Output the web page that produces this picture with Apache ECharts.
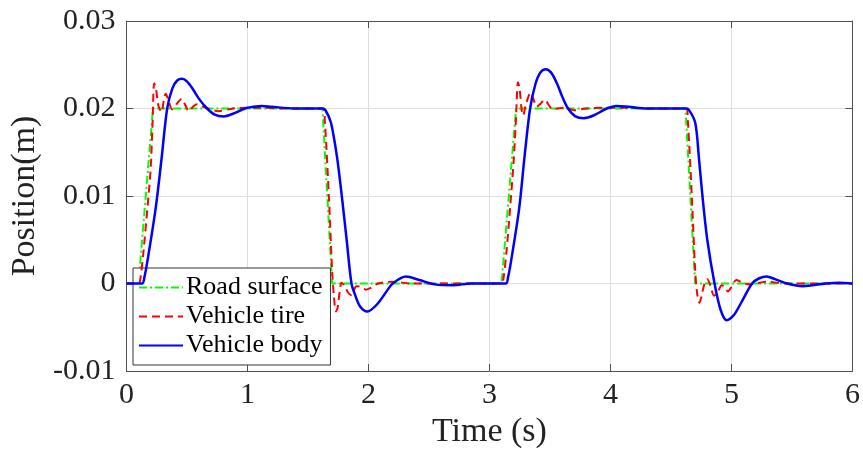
<!DOCTYPE html>
<html>
<head>
<meta charset="utf-8">
<title>Position response</title>
<script src="https://cdn.jsdelivr.net/npm/echarts@6/dist/echarts.min.js"></script>
<style>
  html, body { margin: 0; padding: 0; background: #fff; }
  #chart { width: 863px; height: 459px; }
</style>
</head>
<body>
<div id="chart"></div>
<script>
// 路面输入 [t, 位移]
var roadSurface = [
  [0, 0], [0.10, 0], [0.22, 0.02], [1.62, 0.02], [1.70, 0],
  [3.10, 0], [3.22, 0.02], [4.62, 0.02], [4.70, 0], [6, 0]
];

// 轮胎位移
var vehicleTire = [
  [0, 0], [0.10, 0], [0.115, 0.0005], [0.14, 0.0035], [0.173, 0.0085], [0.20, 0.0130],
  [0.215, 0.0178], [0.23, 0.0229], [0.245, 0.0222], [0.265, 0.0203], [0.29, 0.0196],
  [0.31, 0.0210], [0.325, 0.0217], [0.35, 0.0208], [0.378, 0.0199], [0.42, 0.0206],
  [0.455, 0.0211], [0.49, 0.0203], [0.516, 0.0197], [0.55, 0.0202], [0.584, 0.0205],
  [0.65, 0.0201], [0.76, 0.0197], [0.88, 0.0200], [1.0, 0.0201], [1.1, 0.0201],
  [1.3, 0.0200], [1.625, 0.0200], [1.64, 0.0185], [1.673, 0.0100], [1.70, 0.0015],
  [1.715, -0.0015], [1.732, -0.0032], [1.745, -0.0028], [1.762, -0.0010], [1.778, 0.0001],
  [1.80, -0.0002], [1.83, -0.0010], [1.855, -0.0013], [1.88, -0.0008], [1.90, -0.0003],
  [1.94, -0.0004], [1.98, -0.0007], [2.02, -0.0005], [2.08, 0.0], [2.2, 0.0002],
  [2.35, 0.0], [3.10, 0], [3.115, 0.0005], [3.14, 0.0035], [3.17, 0.0085],
  [3.20, 0.0140], [3.22, 0.0190], [3.236, 0.0230], [3.25, 0.0222], [3.265, 0.0200],
  [3.278, 0.0192], [3.30, 0.0204], [3.34, 0.0218], [3.365, 0.0210], [3.39, 0.0202],
  [3.42, 0.0205], [3.457, 0.0210], [3.49, 0.0204], [3.52, 0.0199], [3.56, 0.0200],
  [3.62, 0.0201], [3.70, 0.0198], [3.80, 0.0200], [3.95, 0.0201], [4.1, 0.0201],
  [4.3, 0.0200], [4.625, 0.0200], [4.64, 0.0185], [4.672, 0.0100], [4.70, 0.0015],
  [4.717, -0.0012], [4.735, -0.0022], [4.75, -0.0016], [4.775, -0.0001], [4.80, 0.0005],
  [4.825, -0.0002], [4.856, -0.0014], [4.885, -0.0010], [4.92, -0.0002], [4.945, -0.0004],
  [4.97, -0.0009], [5.00, -0.0004], [5.04, 0.0004], [5.09, 0.0001], [5.15, -0.0001],
  [5.29, 0.0002], [5.45, 0.0], [6, 0]
];

// 车身位移
var vehicleBody = [
  [0, 0], [0.13, 0], [0.15, 0.0008], [0.173, 0.0025], [0.241, 0.0085], [0.29, 0.0142],
  [0.337, 0.0200], [0.38, 0.0223], [0.42, 0.0232], [0.461, 0.0234], [0.50, 0.0231],
  [0.55, 0.0222], [0.60, 0.0211], [0.667, 0.0200], [0.73, 0.0193], [0.804, 0.0191],
  [0.88, 0.0194], [0.98, 0.0200], [1.05, 0.0202], [1.12, 0.0203], [1.2, 0.0202],
  [1.39, 0.0200], [1.62, 0.0200], [1.645, 0.0198], [1.69, 0.0184], [1.74, 0.0145],
  [1.78, 0.0100], [1.82, 0.0050], [1.86, 0.0], [1.89, -0.0013], [1.93, -0.0026],
  [1.99, -0.0032], [2.07, -0.0024], [2.16, -0.0007], [2.20, 0.0], [2.31, 0.0008],
  [2.42, 0.0004], [2.55, -0.0001], [2.7, -0.0002], [2.85, 0], [3.135, 0],
  [3.155, 0.0008], [3.178, 0.0025], [3.245, 0.0085], [3.29, 0.0145], [3.336, 0.0200],
  [3.38, 0.0228], [3.42, 0.0241], [3.465, 0.0245], [3.51, 0.0241], [3.56, 0.0228],
  [3.60, 0.0214], [3.649, 0.0200], [3.71, 0.0191], [3.78, 0.0189], [3.86, 0.0192],
  [3.97, 0.0200], [4.05, 0.0203], [4.15, 0.0202], [4.30, 0.0200], [4.62, 0.0200],
  [4.645, 0.0199], [4.70, 0.0184], [4.73, 0.0145], [4.76, 0.0100], [4.80, 0.0050],
  [4.86, 0.0], [4.91, -0.0030], [4.96, -0.0042], [5.02, -0.0036], [5.08, -0.0022],
  [5.17, 0.0], [5.23, 0.0006], [5.29, 0.0008], [5.36, 0.0005], [5.46, 0.0],
  [5.59, -0.0003], [5.78, 0.0], [5.89, 0.0001], [6, 0]
];

var seriesNames = ['Road surface', 'Vehicle tire', 'Vehicle body'];

var font = "'Liberation Serif', 'Times New Roman', serif";
var axisColor = '#505050';

function frameAxis(extra) {
  var base = {
    type: 'value',
    axisLine: { show: true, onZero: false, lineStyle: { color: axisColor, width: 1 } },
    axisTick: { show: true, inside: true, length: 7, lineStyle: { color: axisColor } },
    splitLine: { show: false },
    axisLabel: { show: false }
  };
  return Object.assign(base, extra);
}

var chart = echarts.init(document.getElementById('chart'));

chart.setOption({
  animation: false,
  backgroundColor: '#fff',
  grid: { left: 124, right: 10, top: 21, bottom: 88, containLabel: false },
  legend: {
    orient: 'vertical',
    left: 133,
    top: 268,
    data: seriesNames,
    itemWidth: 44,
    itemHeight: 14,
    itemGap: 0,
    padding: [5, 8, 5, 5],
    backgroundColor: '#fff',
    borderColor: '#333',
    borderWidth: 1,
    borderRadius: 0,
    itemStyle: { opacity: 0 },
    textStyle: { fontFamily: font, fontSize: 26, lineHeight: 29, color: '#000', padding: [0, 0, 0, -2] }
  },
  xAxis: [
    frameAxis({
      min: 0, max: 6, interval: 1,
      name: 'Time (s)',
      nameLocation: 'middle',
      nameGap: 44,
      nameTextStyle: { fontFamily: font, fontSize: 34, color: '#222' },
      axisLabel: { show: true, fontFamily: font, fontSize: 30, color: '#222', margin: 9 },
      splitLine: { show: true, lineStyle: { color: '#dedede', width: 1 } }
    }),
    frameAxis({ position: 'top', min: 0, max: 6, interval: 1 })
  ],
  yAxis: [
    frameAxis({
      min: -0.01, max: 0.03, interval: 0.01,
      name: 'Position(m)',
      nameLocation: 'middle',
      nameGap: 80,
      nameTextStyle: { fontFamily: font, fontSize: 34, color: '#222' },
      axisLabel: { show: true, fontFamily: font, fontSize: 30, color: '#222', margin: 11 },
      splitLine: { show: true, lineStyle: { color: '#dedede', width: 1 } }
    }),
    frameAxis({ position: 'right', min: -0.01, max: 0.03, interval: 0.01 })
  ],
  series: [
    {
      name: seriesNames[0],
      type: 'line',
      data: roadSurface,
      symbol: 'none',
      z: 3,
      lineStyle: { color: '#00ff00', width: 2, type: [8, 3, 2, 3] },
      itemStyle: { color: '#00ff00' }
    },
    {
      name: seriesNames[1],
      type: 'line',
      data: vehicleTire,
      symbol: 'none',
      smooth: 0.3,
      z: 4,
      lineStyle: { color: '#ff0000', width: 2, type: [8, 5] },
      itemStyle: { color: '#ff0000' }
    },
    {
      name: seriesNames[2],
      type: 'line',
      data: vehicleBody,
      symbol: 'none',
      smooth: 0.3,
      z: 5,
      lineStyle: { color: '#0000ff', width: 2.5 },
      itemStyle: { color: '#0000ff' }
    }
  ]
});
</script>
</body>
</html>
